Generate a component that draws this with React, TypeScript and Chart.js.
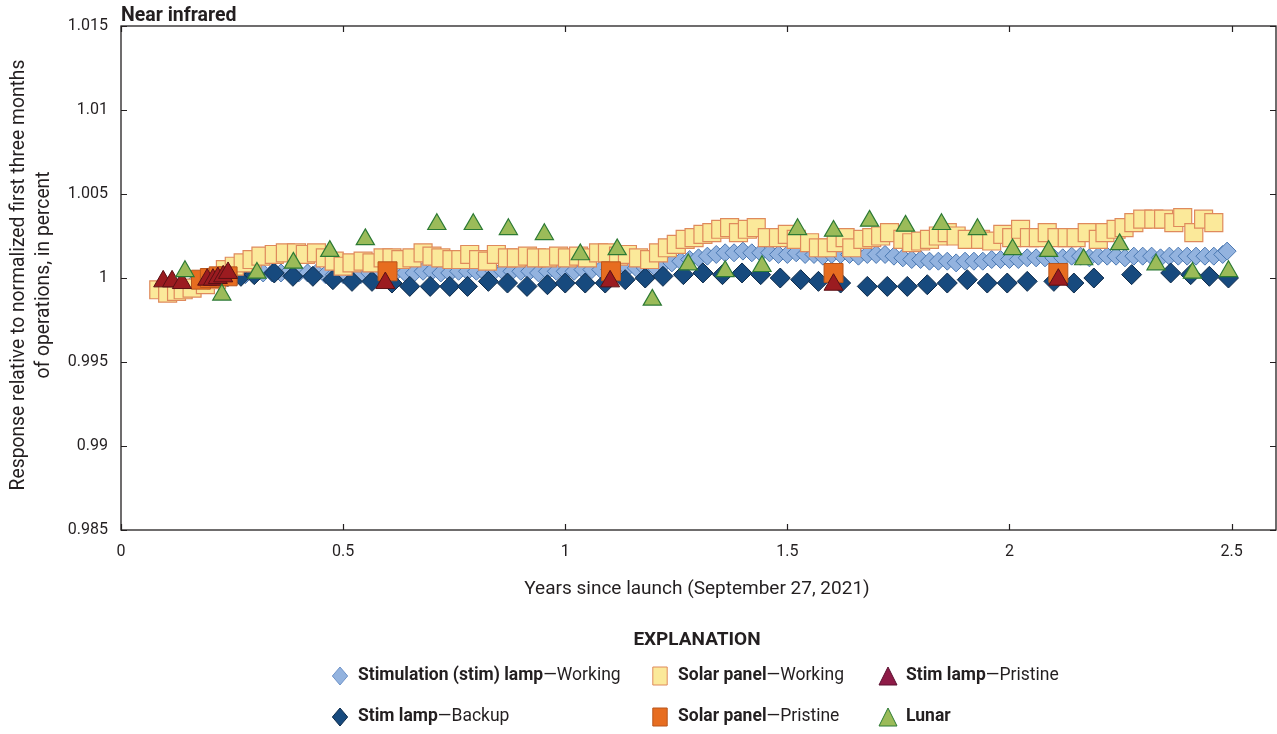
import React, { useEffect, useRef } from 'react';
import { Chart, registerables } from 'chart.js';

Chart.register(...registerables);

const FONT = 'Roboto, "Noto Sans", sans-serif';
const NARROW = '"Liberation Sans Narrow", Roboto, sans-serif';
const INK = '#231f20';

const xTickValues = [0, 0.5, 1, 1.5, 2, 2.5];
const xTickLabels = ['0', '0.5', '1', '1.5', '2', '2.5'];
const yTickValues = [0.985, 0.99, 0.995, 1, 1.005, 1.01, 1.015];
const yTickLabels = ['0.985', '0.99', '0.995', '1', '1.005', '1.01', '1.015'];

const chartTitle = 'Near infrared';
const xAxisTitle = 'Years since launch (September 27, 2021)';
const yAxisTitle = ['Response relative to normalized first three months', 'of operations, in percent'];

// Stimulation (stim) lamp — Working
const stimWorkingYears = [
  0.10, 0.12, 0.14, 0.16, 0.18, 0.20, 0.22, 0.24, 0.26, 0.28,
  0.30, 0.32, 0.34, 0.36, 0.38, 0.40, 0.42, 0.44, 0.46, 0.48,
  0.50, 0.52, 0.54, 0.56, 0.58, 0.60, 0.62, 0.64, 0.66, 0.68,
  0.70, 0.72, 0.74, 0.76, 0.78, 0.80, 0.82, 0.84, 0.86, 0.88,
  0.90, 0.92, 0.94, 0.96, 0.98, 1.00, 1.02, 1.04, 1.06, 1.08,
  1.10, 1.12, 1.14, 1.16, 1.18, 1.20, 1.22, 1.24, 1.26, 1.28,
  1.30, 1.32, 1.34, 1.36, 1.38, 1.40, 1.42, 1.44, 1.46, 1.48,
  1.50, 1.52, 1.54, 1.56, 1.58, 1.60, 1.62, 1.64, 1.66, 1.68,
  1.70, 1.72, 1.74, 1.76, 1.78, 1.80, 1.82, 1.84, 1.86, 1.88,
  1.90, 1.92, 1.94, 1.96, 1.98, 2.00, 2.02, 2.04, 2.06, 2.08,
  2.10, 2.12, 2.14, 2.16, 2.18, 2.20, 2.22, 2.24, 2.26, 2.28,
  2.30, 2.32, 2.34, 2.36, 2.38, 2.40, 2.42, 2.44, 2.46, 2.48, 2.49,
];
const stimWorkingValues = [
  0.9993, 0.9994, 0.9995, 0.9996, 0.9997, 0.9998, 0.9999, 1.0000, 1.0001, 1.0002,
  1.0002, 1.0003, 1.0003, 1.0003, 1.0004, 1.0003, 1.0003, 1.0003, 1.0002, 1.0002,
  1.0002, 1.0003, 1.0002, 1.0003, 1.0003, 1.0003, 1.0004, 1.0003, 1.0003, 1.0004,
  1.0004, 1.0003, 1.0003, 1.0004, 1.0004, 1.0004, 1.0003, 1.0004, 1.0004, 1.0004,
  1.0004, 1.0004, 1.0003, 1.0004, 1.0004, 1.0004, 1.0004, 1.0005, 1.0005, 1.0005,
  1.0005, 1.0005, 1.0006, 1.0006, 1.0006, 1.0007, 1.0008, 1.0009, 1.0010, 1.0011,
  1.0012, 1.0013, 1.0014, 1.0015, 1.0015, 1.0016, 1.0015, 1.0015, 1.0015, 1.0014,
  1.0014, 1.0015, 1.0014, 1.0014, 1.0013, 1.0014, 1.0014, 1.0014, 1.0013, 1.0014,
  1.0014, 1.0014, 1.0013, 1.0012, 1.0011, 1.0011, 1.0010, 1.0010, 1.0010, 1.0009,
  1.0010, 1.0010, 1.0010, 1.0011, 1.0011, 1.0011, 1.0011, 1.0012, 1.0012, 1.0012,
  1.0012, 1.0012, 1.0013, 1.0013, 1.0012, 1.0013, 1.0013, 1.0013, 1.0012, 1.0013,
  1.0013, 1.0013, 1.0012, 1.0013, 1.0013, 1.0013, 1.0013, 1.0013, 1.0013, 1.0014, 1.0016,
];

// Stim lamp — Backup
const stimBackupYears = [
  0.22, 0.27, 0.30, 0.345, 0.387, 0.432, 0.477, 0.52, 0.565, 0.61,
  0.65, 0.696, 0.74, 0.78, 0.827, 0.87, 0.914, 0.96, 1.00, 1.045,
  1.09, 1.135, 1.18, 1.22, 1.266, 1.31, 1.354, 1.398, 1.44, 1.484,
  1.53, 1.57, 1.62, 1.68, 1.725, 1.77, 1.815, 1.86, 1.905, 1.95,
  1.995, 2.04, 2.10, 2.145, 2.19, 2.275, 2.363, 2.408, 2.45, 2.493,
];
const stimBackupValues = [
  0.9999, 1.0001, 1.0002, 1.0003, 1.0001, 1.0001, 0.9999, 0.9998, 0.9998, 0.9997,
  0.9995, 0.9995, 0.9995, 0.9995, 0.9998, 0.9997, 0.9995, 0.9996, 0.9997, 0.9997,
  0.9997, 0.9999, 1.0000, 1.0001, 1.0002, 1.0003, 1.0002, 1.0003, 1.0002, 1.0000,
  0.9999, 0.9998, 0.9997, 0.9995, 0.9995, 0.9995, 0.9996, 0.9997, 0.9999, 0.9997,
  0.9997, 0.9998, 0.9998, 0.9997, 1.0000, 1.0002, 1.0003, 1.0002, 1.0001, 1.0000,
];

// Solar panel — Working
const solarWorkingYears = [
  0.085, 0.105, 0.125, 0.140, 0.160, 0.190, 0.215, 0.235, 0.255, 0.275,
  0.295, 0.315, 0.345, 0.370, 0.395, 0.415, 0.440, 0.460, 0.480, 0.500,
  0.520, 0.545, 0.565, 0.590, 0.610, 0.630, 0.655, 0.680, 0.700, 0.720,
  0.745, 0.765, 0.785, 0.805, 0.825, 0.845, 0.870, 0.890, 0.915, 0.935,
  0.960, 0.985, 1.005, 1.030, 1.050, 1.075, 1.095, 1.120, 1.140, 1.165,
  1.190, 1.210, 1.230, 1.250, 1.270, 1.290, 1.310, 1.330, 1.350, 1.370,
  1.390, 1.410, 1.430, 1.455, 1.480, 1.500, 1.520, 1.550, 1.570, 1.590,
  1.610, 1.630, 1.645, 1.670, 1.690, 1.710, 1.730, 1.760, 1.780, 1.800,
  1.820, 1.840, 1.860, 1.880, 1.905, 1.935, 1.960, 1.985, 2.005, 2.025,
  2.045, 2.065, 2.085, 2.107, 2.130, 2.150, 2.175, 2.200, 2.215, 2.240,
  2.258, 2.280, 2.300, 2.325, 2.347, 2.370, 2.390, 2.415, 2.437, 2.460,
];
const solarWorkingValues = [
  0.9993, 0.9991, 0.9992, 0.9993, 0.9994, 0.9996, 0.9999, 1.0005, 1.0007, 1.0009,
  1.0011, 1.0013, 1.0014, 1.0015, 1.0015, 1.0014, 1.0015, 1.0012, 1.0010, 1.0007,
  1.0009, 1.0010, 1.0009, 1.0012, 1.0012, 1.0011, 1.0012, 1.0015, 1.0013, 1.0012,
  1.0011, 1.0011, 1.0014, 1.0011, 1.0010, 1.0014, 1.0012, 1.0012, 1.0013, 1.0012,
  1.0012, 1.0013, 1.0012, 1.0013, 1.0012, 1.0015, 1.0015, 1.0013, 1.0014, 1.0012,
  1.0011, 1.0015, 1.0018, 1.0020, 1.0023, 1.0024, 1.0026, 1.0027, 1.0029, 1.0030,
  1.0027, 1.0029, 1.0030, 1.0024, 1.0024, 1.0026, 1.0023, 1.0021, 1.0018, 1.0018,
  1.0021, 1.0024, 1.0018, 1.0023, 1.0024, 1.0025, 1.0027, 1.0023, 1.0021, 1.0022,
  1.0023, 1.0025, 1.0027, 1.0025, 1.0023, 1.0023, 1.0022, 1.0026, 1.0024, 1.0029,
  1.0024, 1.0024, 1.0027, 1.0024, 1.0024, 1.0024, 1.0027, 1.0023, 1.0027, 1.0029,
  1.0030, 1.0033, 1.0035, 1.0035, 1.0035, 1.0033, 1.0036, 1.0027, 1.0035, 1.0033,
];

// Solar panel — Pristine
const solarPristineYears = [0.18, 0.20, 0.22, 0.24, 0.60, 1.103, 1.604, 2.11];
const solarPristineValues = [0.9999, 1.0000, 1.0001, 1.0001, 1.0004, 1.0004, 1.0003, 1.0003];

// Stim lamp — Pristine
const stimPristineYears = [0.095, 0.115, 0.137, 0.194, 0.207, 0.218, 0.230, 0.241, 0.595, 1.101, 1.604, 2.11];
const stimPristineValues = [0.9998, 0.9998, 0.9997, 0.9999, 0.9999, 1.0000, 1.0001, 1.0003, 0.9997, 0.9998, 0.9996, 0.9999];

// Lunar
const lunarYears = [
  0.144, 0.227, 0.306, 0.388, 0.470, 0.550, 0.711, 0.793, 0.872, 0.953,
  1.034, 1.117, 1.196, 1.277, 1.360, 1.443, 1.523, 1.604, 1.685, 1.766,
  1.847, 1.928, 2.007, 2.088, 2.167, 2.248, 2.330, 2.412, 2.493,
];
const lunarValues = [
  1.0004, 0.9990, 1.0003, 1.0009, 1.0016, 1.0023, 1.0032, 1.0032, 1.0029, 1.0026,
  1.0014, 1.0017, 0.9987, 1.0008, 1.0004, 1.0007, 1.0029, 1.0028, 1.0034, 1.0031,
  1.0032, 1.0029, 1.0017, 1.0016, 1.0011, 1.0020, 1.0008, 1.0003, 1.0004,
];

const toPoints = (xs: number[], ys: number[]) => xs.map((x, i) => ({ x, y: ys[i] }));

const COLORS = {
  stimWorkingFill: '#93b3df',
  stimWorkingBorder: '#4a78b2',
  backupFill: '#174a7e',
  backupBorder: '#0e2b4a',
  solarWorkingFill: '#fbe99a',
  solarWorkingBorder: '#df8a5c',
  solarPristineFill: '#e76d20',
  solarPristineBorder: '#b9561c',
  stimPristineFill: '#9b1b20',
  stimPristineBorder: '#5a1014',
  stimPristineLegend: '#8e1b47',
  lunarFill: '#9bbb59',
  lunarBorder: '#2c7a34',
};

function drawMarker(ctx: CanvasRenderingContext2D, shape: string, x: number, y: number, s: number, fill: string, stroke: string) {
  ctx.save();
  ctx.beginPath();
  if (shape === 'diamond') {
    ctx.moveTo(x, y - s); ctx.lineTo(x + s * 0.85, y); ctx.lineTo(x, y + s); ctx.lineTo(x - s * 0.85, y); ctx.closePath();
  } else if (shape === 'square') {
    ctx.rect(x - s * 0.8, y - s, s * 1.6, s * 2);
  } else {
    ctx.moveTo(x, y - s); ctx.lineTo(x + s, y + s); ctx.lineTo(x - s, y + s); ctx.closePath();
  }
  ctx.fillStyle = fill; ctx.fill();
  ctx.lineWidth = 1; ctx.strokeStyle = stroke; ctx.stroke();
  ctx.restore();
}

const legendItems = [
  { shape: 'diamond', fill: COLORS.stimWorkingFill, stroke: '#6f93c8', bold: 'Stimulation (stim) lamp', rest: '\u2014Working', mx: 340, my: 676 },
  { shape: 'square', fill: COLORS.solarWorkingFill, stroke: COLORS.solarWorkingBorder, bold: 'Solar panel', rest: '\u2014Working', mx: 660, my: 676 },
  { shape: 'triangle', fill: COLORS.stimPristineLegend, stroke: '#5a1030', bold: 'Stim lamp', rest: '\u2014Pristine', mx: 888, my: 676 },
  { shape: 'diamond', fill: COLORS.backupFill, stroke: COLORS.backupBorder, bold: 'Stim lamp', rest: '\u2014Backup', mx: 340, my: 717 },
  { shape: 'square', fill: COLORS.solarPristineFill, stroke: COLORS.solarPristineBorder, bold: 'Solar panel', rest: '\u2014Pristine', mx: 660, my: 717 },
  { shape: 'triangle', fill: COLORS.lunarFill, stroke: COLORS.lunarBorder, bold: 'Lunar', rest: '', mx: 888, my: 717 },
];

const decorPlugin = {
  id: 'decor',
  afterDraw(chart: any) {
    const { ctx, chartArea } = chart;
    const { left, right, top, bottom } = chartArea;
    const xs = chart.scales.x;
    const ys = chart.scales.y;
    ctx.save();
    ctx.strokeStyle = INK;
    ctx.lineWidth = 1.3;
    ctx.strokeRect(left, top, right - left, bottom - top);
    ctx.lineWidth = 1.2;
    ctx.beginPath();
    xTickValues.forEach((v) => {
      const px = Math.round(xs.getPixelForValue(v)) + 0.5;
      ctx.moveTo(px, bottom); ctx.lineTo(px, bottom - 6);
      ctx.moveTo(px, top); ctx.lineTo(px, top + 6);
    });
    yTickValues.forEach((v) => {
      const py = Math.round(ys.getPixelForValue(v)) + 0.5;
      ctx.moveTo(left, py); ctx.lineTo(left + 6, py);
      ctx.moveTo(right, py); ctx.lineTo(right - 6, py);
    });
    ctx.stroke();

    ctx.fillStyle = INK;
    // chart title
    ctx.font = `bold 19.5px ${FONT}`;
    ctx.textAlign = 'left';
    ctx.textBaseline = 'alphabetic';
    ctx.fillText(chartTitle, left, 21);

    // axis titles
    ctx.font = `19px ${FONT}`;
    ctx.textAlign = 'center';
    ctx.textBaseline = 'middle';
    ctx.fillText(xAxisTitle, 697, 589);
    const midY = 275;
    ctx.font = `19.3px ${FONT}`;
    ctx.save();
    ctx.translate(19, midY);
    ctx.rotate(-Math.PI / 2);
    ctx.fillText(yAxisTitle[0], 0, 0);
    ctx.restore();
    ctx.save();
    ctx.translate(44, midY);
    ctx.rotate(-Math.PI / 2);
    ctx.fillText(yAxisTitle[1], 0, 0);
    ctx.restore();

    // legend
    ctx.font = `bold 19px ${FONT}`;
    ctx.textAlign = 'center';
    ctx.textBaseline = 'alphabetic';
    ctx.fillText('EXPLANATION', 697, 645);
    ctx.textAlign = 'left';
    ctx.textBaseline = 'middle';
    legendItems.forEach((it) => {
      drawMarker(ctx, it.shape, it.mx, it.my, 9, it.fill, it.stroke);
      const tx = it.mx + 18;
      ctx.font = `bold 17.5px ${FONT}`;
      ctx.fillText(it.bold, tx, it.my);
      const w = ctx.measureText(it.bold).width;
      ctx.font = `17.5px ${FONT}`;
      ctx.fillText(it.rest, tx + w, it.my);
    });
    ctx.restore();
  },
};

export default function App() {
  const canvasRef = useRef<HTMLCanvasElement | null>(null);

  useEffect(() => {
    const canvas = canvasRef.current;
    if (!canvas) return;
    const chart = new Chart(canvas, {
      type: 'scatter',
      data: {
        datasets: [
          {
            label: 'Lunar',
            data: toPoints(lunarYears, lunarValues),
            pointStyle: 'triangle',
            radius: 10.5,
            backgroundColor: COLORS.lunarFill,
            borderColor: COLORS.lunarBorder,
            borderWidth: 1.2,
            order: 0,
          },
          {
            label: 'Stim lamp—Pristine',
            data: toPoints(stimPristineYears, stimPristineValues),
            pointStyle: 'triangle',
            radius: 11,
            backgroundColor: COLORS.stimPristineFill,
            borderColor: COLORS.stimPristineBorder,
            borderWidth: 1,
            order: 1,
          },
          {
            label: 'Solar panel—Pristine',
            data: toPoints(solarPristineYears, solarPristineValues),
            pointStyle: 'rect',
            radius: 13.4,
            backgroundColor: COLORS.solarPristineFill,
            borderColor: COLORS.solarPristineBorder,
            borderWidth: 1,
            order: 2,
          },
          {
            label: 'Solar panel—Working',
            data: toPoints(solarWorkingYears, solarWorkingValues),
            pointStyle: 'rect',
            radius: 12.7,
            backgroundColor: COLORS.solarWorkingFill,
            borderColor: COLORS.solarWorkingBorder,
            borderWidth: 1.2,
            order: 3,
          },
          {
            label: 'Stim lamp—Backup',
            data: toPoints(stimBackupYears, stimBackupValues),
            pointStyle: 'rectRot',
            radius: 10,
            backgroundColor: COLORS.backupFill,
            borderColor: COLORS.backupBorder,
            borderWidth: 1,
            order: 4,
          },
          {
            label: 'Stimulation (stim) lamp—Working',
            data: toPoints(stimWorkingYears, stimWorkingValues),
            pointStyle: 'rectRot',
            radius: 9,
            backgroundColor: COLORS.stimWorkingFill,
            borderColor: COLORS.stimWorkingBorder,
            borderWidth: 1,
            order: 5,
          },
        ],
      },
      options: {
        animation: false,
        responsive: false,
        maintainAspectRatio: false,
        layout: { autoPadding: false, padding: { left: 0, right: 1, top: 26, bottom: 124 } },
        plugins: {
          legend: { display: false },
          tooltip: { enabled: false },
          title: { display: false },
        },
        scales: {
          x: {
            type: 'linear',
            min: 0,
            max: 2.6,
            grid: { display: false, drawTicks: false },
            border: { display: false },
            afterBuildTicks: (scale: any) => {
              scale.ticks = xTickValues.map((v) => ({ value: v }));
            },
            afterFit: (scale: any) => {
              scale.height = 80;
              scale.paddingLeft = 0;
              scale.paddingRight = 0;
            },
            ticks: {
              padding: 12,
              color: INK,
              font: { family: NARROW, size: 16 },
              maxRotation: 0,
              autoSkip: false,
              callback: (v: any) => {
                const i = xTickValues.indexOf(Number(v));
                return i >= 0 ? xTickLabels[i] : '';
              },
            },
          },
          y: {
            type: 'linear',
            min: 0.985,
            max: 1.015,
            grid: { display: false, drawTicks: false },
            border: { display: false },
            afterBuildTicks: (scale: any) => {
              scale.ticks = yTickValues.map((v) => ({ value: v }));
            },
            afterFit: (scale: any) => {
              scale.width = 121;
              scale.paddingTop = 0;
              scale.paddingBottom = 0;
            },
            ticks: {
              padding: 13,
              color: INK,
              font: { family: NARROW, size: 16 },
              autoSkip: false,
              callback: (v: any) => {
                const i = yTickValues.findIndex((t) => Math.abs(t - Number(v)) < 1e-9);
                return i >= 0 ? yTickLabels[i] : '';
              },
            },
          },
        },
      },
      plugins: [decorPlugin],
    } as any);
    return () => chart.destroy();
  }, []);

  return (
    <div style={{ position: 'fixed', left: 0, top: 0, width: 1277, height: 734, background: '#fff' }}>
      <canvas ref={canvasRef} width={1277} height={734} style={{ display: 'block', width: 1277, height: 734 }} />
    </div>
  );
}
